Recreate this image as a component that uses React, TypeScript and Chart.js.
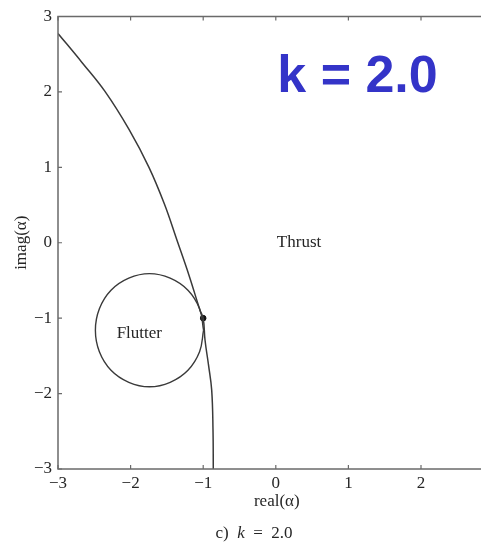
import { useEffect, useRef } from 'react';
import { Chart, registerables } from 'chart.js';

Chart.register(...registerables);

// Axis ticks shared by both axes
const axisTicks = [-3, -2, -1, 0, 1, 2, 3];

// Flutter/thrust boundary curve in the complex alpha plane
const boundaryRe = [-3.0, -2.67, -2.353, -2.022, -1.747, -1.533, -1.361, -1.196, -1.044, -1.0, -0.975, -0.927, -0.883, -0.865, -0.861];
const boundaryIm = [2.775, 2.391, 2.007, 1.503, 1.0, 0.51, 0.033, -0.43, -0.894, -1.0, -1.29, -1.62, -1.954, -2.48, -3.0];

// Closed flutter region
const flutterRe = [-0.995, -1.05, -1.21, -1.455, -1.74, -2.025, -2.27, -2.43, -2.485, -2.43, -2.27, -2.025, -1.74, -1.455, -1.21, -1.05, -0.995];
const flutterIm = [-1.16, -0.875, -0.63, -0.47, -0.41, -0.47, -0.63, -0.875, -1.16, -1.445, -1.69, -1.85, -1.91, -1.85, -1.69, -1.445, -1.16];

// Contact point of the flutter circle with the boundary
const contactRe = [-1.0];
const contactIm = [-1.0];

// Region names placed in data coordinates
const regionNames = ['Flutter', 'Thrust'];
const regionRe = [-1.88, 0.32];
const regionIm = [-1.21, 0.0];

const xTitle = 'real(\u03b1)';
const yTitle = 'imag(\u03b1)';
const badgeText = 'k = 2.0';

const SERIF = '"Liberation Serif", "DejaVu Serif", serif';
const INK = '#262626';

const fmt = (v: number) => (v < 0 ? '\u2212' + Math.abs(v) : String(v));
const pts = (xs: number[], ys: number[]) => xs.map((x, i) => ({ x, y: ys[i] }));

const decorations = {
  id: 'decorations',
  afterDraw(chart: any) {
    const { ctx, chartArea: a, scales } = chart;
    const xs = scales.x;
    const ys = scales.y;
    ctx.save();

    // Frame and inward tick marks
    ctx.strokeStyle = '#6a6a6a';
    ctx.lineWidth = 1.5;
    ctx.strokeRect(a.left, a.top, a.right - a.left, a.bottom - a.top);
    ctx.lineWidth = 1.2;
    ctx.beginPath();
    axisTicks.forEach((v) => {
      const px = xs.getPixelForValue(v);
      ctx.moveTo(px, a.bottom);
      ctx.lineTo(px, a.bottom - 4);
      ctx.moveTo(px, a.top);
      ctx.lineTo(px, a.top + 4);
      const py = ys.getPixelForValue(v);
      ctx.moveTo(a.left, py);
      ctx.lineTo(a.left + 4, py);
      ctx.moveTo(a.right, py);
      ctx.lineTo(a.right - 4, py);
    });
    ctx.stroke();

    // Region names
    ctx.fillStyle = INK;
    ctx.font = `17px ${SERIF}`;
    ctx.textAlign = 'center';
    ctx.textBaseline = 'middle';
    regionNames.forEach((name, i) => {
      ctx.fillText(name, xs.getPixelForValue(regionRe[i]), ys.getPixelForValue(regionIm[i]));
    });

    // Axis titles
    ctx.fillText(xTitle, xs.getPixelForValue(0) + 1, a.bottom + 33);
    ctx.save();
    ctx.translate(14, ys.getPixelForValue(0));
    ctx.rotate(-Math.PI / 2);
    ctx.fillText(yTitle, 0, 0);
    ctx.restore();

    // Caption "c) k = 2.0" with italic k
    const parts = [
      { t: 'c)  ', f: `17px ${SERIF}` },
      { t: 'k', f: `italic 17px ${SERIF}` },
      { t: '  =  2.0', f: `17px ${SERIF}` },
    ];
    let total = 0;
    parts.forEach((p) => {
      ctx.font = p.f;
      total += ctx.measureText(p.t).width;
    });
    let cx = 246 - total / 2;
    ctx.textAlign = 'left';
    const capY = a.bottom + 65;
    parts.forEach((p) => {
      ctx.font = p.f;
      ctx.fillText(p.t, cx, capY);
      cx += ctx.measureText(p.t).width;
    });

    // Blue badge
    ctx.fillStyle = '#3434c8';
    ctx.font = `bold 52px "Liberation Sans", Arial, sans-serif`;
    ctx.textAlign = 'center';
    ctx.textBaseline = 'alphabetic';
    ctx.fillText(badgeText, 349.5, a.top + 75);

    ctx.restore();
  },
};

export default function App() {
  const ref = useRef<HTMLCanvasElement | null>(null);

  useEffect(() => {
    if (!ref.current) return;
    const tickFont = { family: SERIF, size: 17, lineHeight: 1 };
    const chart = new Chart(ref.current, {
      type: 'scatter',
      data: {
        datasets: [
          {
            data: pts(boundaryRe, boundaryIm),
            showLine: true,
            borderColor: '#3a3a3a',
            borderWidth: 1.5,
            pointRadius: 0,
            tension: 0.4,
          },
          {
            data: pts(flutterRe, flutterIm),
            showLine: true,
            borderColor: '#3a3a3a',
            borderWidth: 1.4,
            pointRadius: 0,
            tension: 0.4,
          },
          {
            data: pts(contactRe, contactIm),
            showLine: false,
            pointRadius: 2.8,
            pointBackgroundColor: '#111',
            pointBorderColor: '#111',
          },
        ],
      },
      options: {
        animation: false,
        responsive: false,
        layout: { padding: { top: 2, right: 14.4, left: 0, bottom: 0 } },
        plugins: { legend: { display: false }, tooltip: { enabled: false } },
        scales: {
          x: {
            type: 'linear',
            min: -3,
            max: 3,
            afterFit: (s: any) => {
              s.height = 78;
            },
            afterBuildTicks: (s: any) => {
              s.ticks = axisTicks.map((v) => ({ value: v }));
            },
            ticks: {
              callback: (v: any) => fmt(Number(v)),
              font: tickFont,
              color: INK,
              padding: 6,
              maxRotation: 0,
              autoSkip: false,
            },
            grid: { display: false, drawTicks: false },
            border: { display: false },
          },
          y: {
            type: 'linear',
            min: -3,
            max: 3,
            afterFit: (s: any) => {
              s.width = 50;
            },
            afterBuildTicks: (s: any) => {
              s.ticks = axisTicks.map((v) => ({ value: v }));
            },
            ticks: {
              callback: (v: any) => fmt(Number(v)),
              font: tickFont,
              color: INK,
              padding: 6,
              autoSkip: false,
            },
            grid: { display: false, drawTicks: false },
            border: { display: false },
          },
        },
      },
      plugins: [decorations],
    });
    return () => chart.destroy();
  }, []);

  return (
    <div style={{ width: 481, height: 539, overflow: 'hidden', position: 'relative' }}>
      <canvas ref={ref} width={500} height={545} style={{ display: 'block', marginTop: -6 }} />
    </div>
  );
}
